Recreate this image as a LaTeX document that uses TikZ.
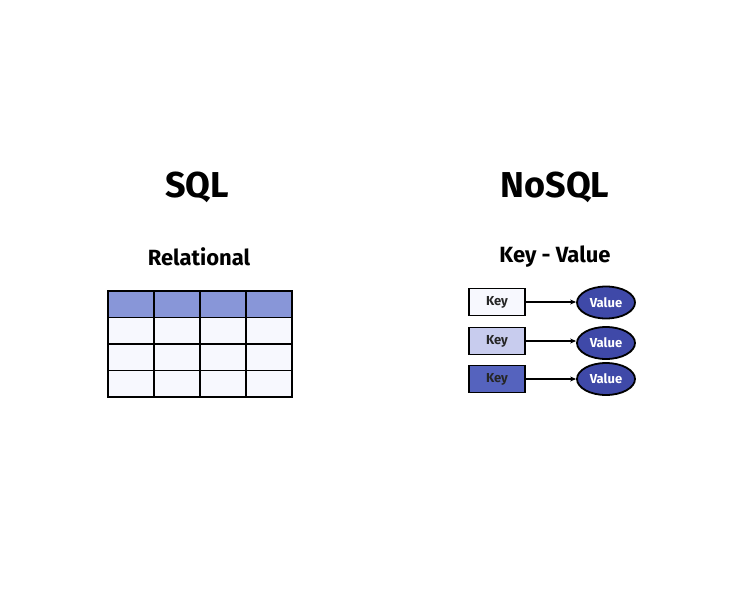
\documentclass[tikz,border=0pt]{standalone}
\usepackage{fontspec}
\setmainfont{Fira Sans}
\usetikzlibrary{shapes.geometric,arrows.meta}
\definecolor{hdr}{HTML}{8896D8}
\definecolor{cellc}{HTML}{F7F8FE}
\definecolor{keyA}{HTML}{F7F8FE}
\definecolor{keyB}{HTML}{C8CCEE}
\definecolor{keyC}{HTML}{5563BE}
\definecolor{valc}{HTML}{3F49A8}
\tikzset{
  cell/.style={draw=black, line width=1.8pt, fill=cellc, minimum width=46pt, minimum height=26.5pt, inner sep=0pt, anchor=north west},
  hcell/.style={cell, fill=hdr},
  keybox/.style={draw=black, line width=1.8pt, minimum width=56pt, minimum height=27pt, inner sep=0pt, text=black!85, font=\bfseries\fontsize{13}{15}\selectfont},
  valnode/.style={ellipse, draw=black, line width=1.8pt, fill=valc, minimum width=58pt, minimum height=32pt, inner sep=0pt, text=white, font=\bfseries\fontsize{13}{15}\selectfont},
  conn/.style={-{Stealth[length=6pt,width=5pt]}, line width=1.6pt},
  title/.style={font=\bfseries\fontsize{36}{40}\selectfont},
  sub/.style={font=\bfseries\fontsize{22}{26}\selectfont}
}
\begin{document}
\begin{tikzpicture}[x=1pt,y=-1pt]
\useasboundingbox[fill=white] (0,0) rectangle (750,592);
\node[title] (sql) at (197,187) {SQL};
\node[title] (nosql) at (555,187) {NoSQL};
\node[sub] (rel) at (199,257) {Relational};
\node[sub] (kv) at (555,257) {Key - Value};
% table
\foreach \c in {0,1,2,3}{
  \node[hcell] (h\c) at (107+46*\c,290) {};
  \foreach \r in {1,2,3}{
    \node[cell] (c\c\r) at (107+46*\c,290+26.5*\r) {};
  }
}
% key value
\node[keybox, fill=keyA] (k1) at (497,302) {Key};
\node[keybox, fill=keyB] (k2) at (497,341) {Key};
\node[keybox, fill=keyC] (k3) at (497,379) {Key};
\node[valnode] (v1) at (606,302.5) {Value};
\node[valnode] (v2) at (606,343) {Value};
\node[valnode] (v3) at (606,379) {Value};
\draw[conn] (k1.east) -- (k1.east -| v1.west);
\draw[conn] (k2.east) -- (k2.east -| v2.west);
\draw[conn] (k3.east) -- (k3.east -| v3.west);
\end{tikzpicture}
\end{document}
